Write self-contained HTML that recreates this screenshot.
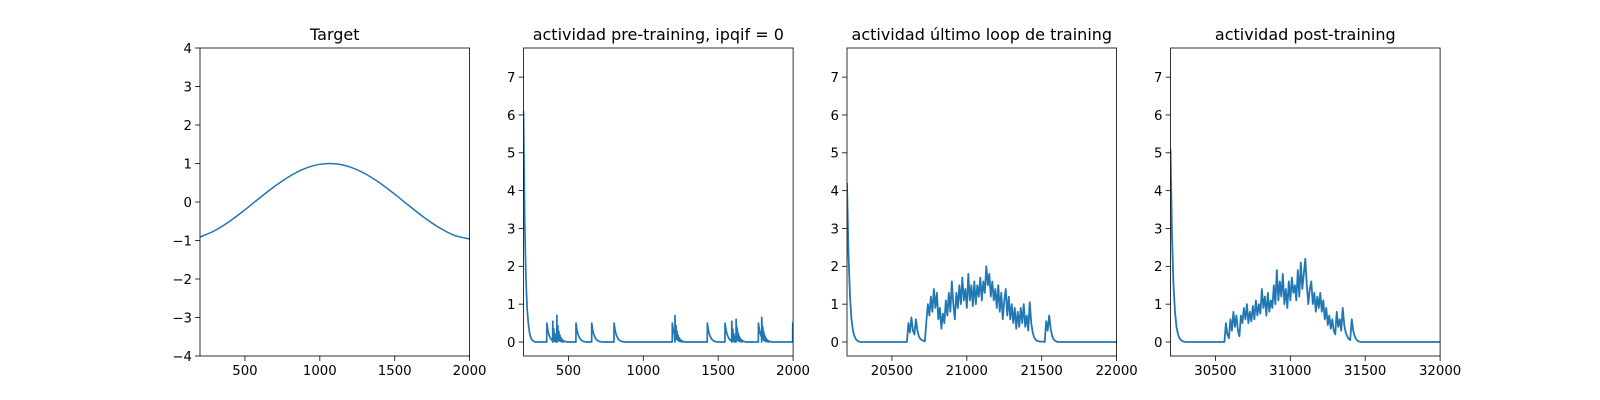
<!DOCTYPE html>
<html><head><meta charset="utf-8">
<style>
html,body{margin:0;padding:0;background:#fff;}
svg{display:block;font-family:"DejaVu Sans","Liberation Sans",sans-serif;}
</style></head>
<body>
<svg id="fig" width="1600" height="400" viewBox="0 0 1600 400" xmlns="http://www.w3.org/2000/svg"></svg>
<script>
// ---- data ----
const targetX = [200,300,400,500,600,700,800,900,1000,1100,1200,1300,1400,1500,1600,1700,1800,1900,2000];
const targetY = [-0.911,-0.740,-0.496,-0.203,0.110,0.412,0.673,0.869,0.979,0.994,0.911,0.740,0.496,0.203,-0.110,-0.412,-0.673,-0.869,-0.96];

const preHead = [6.1,3.2,1.7,0.9,0.5,0.25,0.12,0.06,0.03,0.01,0];
const preSpikeTimes = [355,395,422,550,655,804,1193,1211,1427,1545,1590,1619,1768,1790,1997];
const preSpikeAmps = [0.5,0.55,0.7,0.5,0.5,0.5,0.5,0.7,0.5,0.5,0.55,0.6,0.5,0.65,0.5];

const lastHead = [4.2,2.3,1.2,0.6,0.3,0.15,0.07,0.03,0.01,0,0];
const lastBodyStart = 20600;
const lastBody = [0,0.5,0.25,0.65,0.3,0.2,0.6,0.3,0.15,0.08,0.05,0.03,0.02,0.55,1.0,0.7,1.2,0.8,1.4,0.9,
1.3,0.6,0.9,0.35,0.75,0.5,1.1,0.7,1.3,0.8,1.6,1.0,0.6,1.3,0.9,1.5,1.0,1.7,1.1,1.4,
0.9,1.8,1.1,1.5,0.95,1.6,1.0,1.5,1.2,1.7,1.1,1.6,1.3,2.0,1.5,1.8,1.2,1.6,1.1,1.4,
0.9,1.5,0.8,1.3,0.6,1.1,1.4,0.7,1.2,0.6,1.0,0.5,0.9,0.35,0.8,0.4,0.9,0.5,1.0,0.4,
0.7,0.3,1.05,0.5,0.25,0.12,0.06,0.03,0.02,0.01,0.01,0.01,0,0.55,0.3,0.7,0.35,0.15,0.07,0.03,
0.01,0];

const postHead = [5.1,2.8,1.5,0.8,0.4,0.2,0.1,0.05,0.02,0.01,0];
const postBodyStart = 30560;
const postBody = [0,0.5,0.2,0.1,0.6,0.3,0.8,0.4,0.7,0.3,0.15,0.7,0.5,0.9,0.6,1.0,0.5,0.8,0.55,0.95,
0.6,1.1,0.7,1.0,0.75,1.4,0.9,1.2,0.7,1.3,0.8,1.1,0.9,1.5,1.0,1.9,1.1,1.6,1.2,1.8,
1.0,1.4,0.9,1.6,1.1,1.7,1.3,1.5,1.1,1.9,1.2,2.1,1.4,1.8,2.2,1.5,1.0,1.4,1.6,1.0,
1.3,0.8,1.2,0.9,1.3,0.8,1.1,0.6,0.9,0.45,0.7,0.35,0.6,0.3,0.2,0.8,0.4,0.6,0.3,0.9,
0.45,0.25,0.15,0.08,0.05,0.6,0.3,0.15,0.07,0.03,0.01,0];

const yTicksTarget = [-4,-3,-2,-1,0,1,2,3,4];
const yTicksAct = [0,1,2,3,4,5,6,7];
const xTicks1 = [500,1000,1500,2000];
const xTicks3 = [20500,21000,21500,22000];
const xTicks4 = [30500,31000,31500,32000];
const titles = ["Target","actividad pre-training, ipqif = 0","actividad último loop de training","actividad post-training"];

// ---- drawing ----
const NS="http://www.w3.org/2000/svg";
const svg=document.getElementById('fig');
function mk(tag,attrs,parent){const e=document.createElementNS(NS,tag);for(const k in attrs)e.setAttribute(k,attrs[k]);(parent||svg).appendChild(e);return e;}
const AW=269.6, AH=308, TOP=48, GAP=323.5;
const COLOR="#1f77b4";

function fmt(v){return (v<0?"\u2212":"")+Math.abs(v);}

function makeAxes(i,xmin,xmax,ymin,ymax,xt,yt,title){
  const x0=200+i*GAP;
  const g=mk('g',{});
  
  
  const sx=v=>x0+(v-xmin)/(xmax-xmin)*AW;
  const sy=v=>TOP+AH-(v-ymin)/(ymax-ymin)*AH;
  const clipId='clip'+i;
  const cp=mk('clipPath',{id:clipId},g);
  mk('rect',{x:x0,y:TOP,width:AW,height:AH},cp);
  const plot=mk('g',{'clip-path':'url(#'+clipId+')'},g);
  xt.forEach(v=>{
    const x=sx(v);
    const t=mk('line',{x1:x,x2:x,y1:TOP+AH,y2:TOP+AH+4.9,stroke:'#000','stroke-width':0.8},g);
    
    
    const l=mk('text',{x:x,y:TOP+AH+19,'font-size':13.3,'text-anchor':'middle',fill:'#000'},g);
    l.textContent=fmt(v);
    
    
  });
  yt.forEach(v=>{
    const y=sy(v);
    const t=mk('line',{x1:x0-4.9,x2:x0,y1:y,y2:y,stroke:'#000','stroke-width':0.8},g);
    
    
    const l=mk('text',{x:x0-8,y:y+4.8,'font-size':13.3,'text-anchor':'end',fill:'#000'},g);
    l.textContent=fmt(v);
    
    
  });
  const tt=mk('text',{x:x0+AW/2,y:TOP-8,'font-size':16,'text-anchor':'middle',fill:'#000'},g);
  tt.textContent=title;
  
  
  const fr=mk('rect',{x:x0,y:TOP,width:AW,height:AH,fill:'none',stroke:'#000','stroke-width':0.8},g);
  
  
  return {sx,sy,plot};
}

function drawLine(ax,xs,ys,name,smooth,w){
  let d='';
  const P=xs.map((x,i)=>[ax.sx(x),ax.sy(ys[i])]);
  if(smooth){
    d='M'+P[0][0]+','+P[0][1];
    for(let i=0;i<P.length-1;i++){
      const p0=P[Math.max(0,i-1)],p1=P[i],p2=P[i+1],p3=P[Math.min(P.length-1,i+2)];
      const c1=[p1[0]+(p2[0]-p0[0])/6,p1[1]+(p2[1]-p0[1])/6];
      const c2=[p2[0]-(p3[0]-p1[0])/6,p2[1]-(p3[1]-p1[1])/6];
      d+=' C'+c1+' '+c2+' '+p2;
    }
  } else {
    d=P.map((p,i)=>(i?'L':'M')+p[0].toFixed(2)+','+p[1].toFixed(2)).join(' ');
  }
  const path=mk('path',{d:d,fill:'none',stroke:COLOR,'stroke-width':w||1.5,'stroke-linejoin':'round'},ax.plot);
  
  
}

function buildTrace(xmin,xmax,head,bodyStart,body){
  const xs=[],ys=[];
  head.forEach((v,i)=>{xs.push(xmin+i*10);ys.push(v);});
  if(body){
    xs.push(bodyStart);ys.push(0);
    body.forEach((v,i)=>{xs.push(bodyStart+i*10);ys.push(v);});
  }
  xs.push(xmax);ys.push(0);
  return [xs,ys];
}

// panel 1
const a1=makeAxes(0,200,2000,-4,4,xTicks1,yTicksTarget,titles[0]);
drawLine(a1,targetX,targetY,'target-line',true,1.5);

// panel 2
const a2=makeAxes(1,200,2000,-0.37,7.77,xTicks1,yTicksAct,titles[1]);
(function(){
  const decay=[1,0.62,0.4,0.26,0.16,0.1,0.06,0.035,0.02,0.01,0];
  const xs=[],ys=[];
  preHead.forEach((v,i)=>{xs.push(200+i*8);ys.push(v);});
  preSpikeTimes.forEach((t,k)=>{
    xs.push(t);ys.push(0);
    decay.forEach((f,j)=>{xs.push(t+0.5+j*7);ys.push(preSpikeAmps[k]*f);});
  });
  xs.push(2000);ys.push(0);
  const idx=xs.map((x,i)=>i).sort((a,b)=>xs[a]-xs[b]);
  drawLine(a2,idx.map(i=>xs[i]),idx.map(i=>ys[i]),'pre-training-activity',false,1.7);
})();

// panel 3
const a3=makeAxes(2,20200,22000,-0.37,7.77,xTicks3,yTicksAct,titles[2]);
(function(){const [xs,ys]=buildTrace(20200,22000,lastHead,lastBodyStart,lastBody);drawLine(a3,xs,ys,'last-loop-activity',false,1.8);})();

// panel 4
const a4=makeAxes(3,30200,32000,-0.37,7.77,xTicks4,yTicksAct,titles[3]);
(function(){const [xs,ys]=buildTrace(30200,32000,postHead,postBodyStart,postBody);drawLine(a4,xs,ys,'post-training-activity',false,1.8);})();
</script>
</body></html>
